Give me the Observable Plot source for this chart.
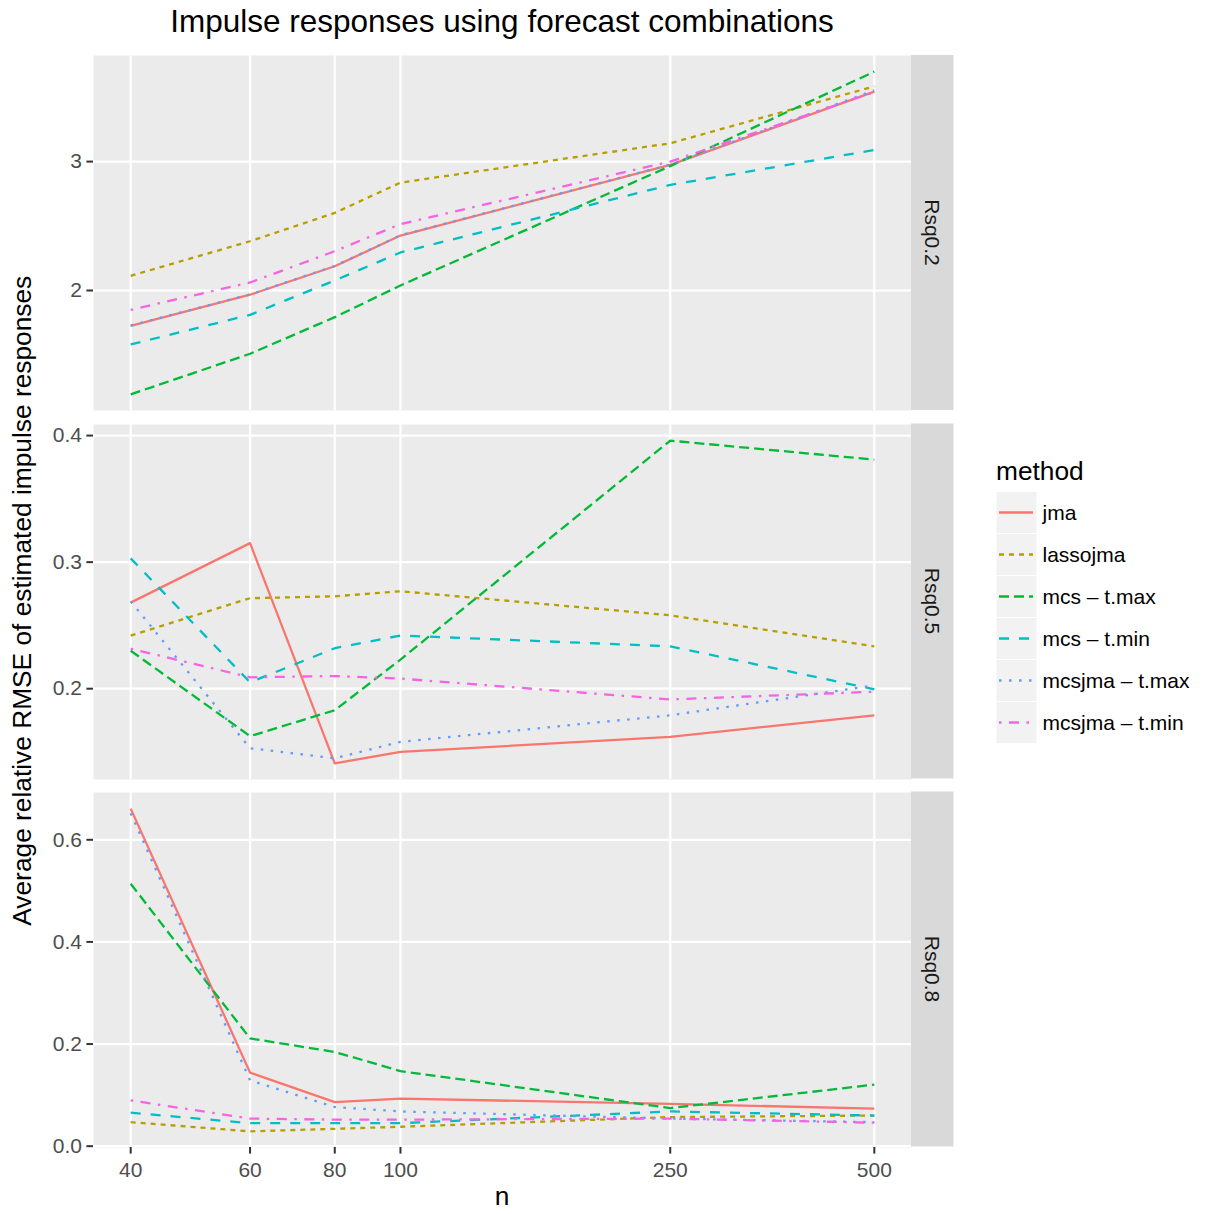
<!DOCTYPE html>
<html><head><meta charset="utf-8">
<script src="https://cdn.jsdelivr.net/npm/d3@7"></script>
<script src="https://cdn.jsdelivr.net/npm/@observablehq/plot@0.6"></script>
<style>
body{margin:0;background:#fff;}
#chart{position:relative;width:1216px;height:1214px;font-family:"Liberation Sans",Arial,sans-serif;overflow:hidden;}
.panel{position:absolute;left:0;}
#overlay{position:absolute;left:0;top:0;pointer-events:none;}
</style></head><body><div id="chart"></div>
<script>
// ---- data ----
const nValues = [40, 60, 80, 100, 250, 500];
const methods = ["jma", "lassojma", "mcs \u2013 t.max", "mcs \u2013 t.min", "mcsjma \u2013 t.max", "mcsjma \u2013 t.min"];
const panelNames = ["Rsq0.2", "Rsq0.5", "Rsq0.8"];
// rows follow the order of `methods`, columns the order of `nValues`
const rsq02 = [
  [1.726, 1.967, 2.188, 2.426, 2.974, 3.543],
  [2.114, 2.382, 2.602, 2.837, 3.142, 3.584],
  [1.194, 1.509, 1.793, 2.039, 2.965, 3.698],
  [1.581, 1.811, 2.078, 2.295, 2.819, 3.090],
  [1.728, 1.969, 2.190, 2.428, 2.976, 3.552],
  [1.850, 2.062, 2.305, 2.515, 3.000, 3.540]
];
const rsq05 = [
  [0.268, 0.315, 0.141, 0.150, 0.162, 0.179],
  [0.242, 0.2715, 0.273, 0.277, 0.258, 0.2335],
  [0.230, 0.1625, 0.183, 0.223, 0.396, 0.381],
  [0.303, 0.205, 0.232, 0.242, 0.2335, 0.1995],
  [0.269, 0.153, 0.145, 0.158, 0.179, 0.2026],
  [0.2316, 0.209, 0.210, 0.208, 0.1915, 0.1976]
];
const rsq08 = [
  [0.661, 0.144, 0.0864, 0.093, 0.083, 0.0734],
  [0.047, 0.029, 0.034, 0.038, 0.057, 0.060],
  [0.514, 0.211, 0.1845, 0.147, 0.0746, 0.1205],
  [0.0655, 0.045, 0.045, 0.045, 0.068, 0.060],
  [0.652, 0.129, 0.0766, 0.068, 0.054, 0.047],
  [0.0897, 0.054, 0.052, 0.052, 0.054, 0.046]
];
const yTickValues = [[2, 3], [0.2, 0.3, 0.4], [0.0, 0.2, 0.4, 0.6]];

// ---- styles ----
const colors = ["#F8766D", "#B79F00", "#00BA38", "#00BFC4", "#619CFF", "#F564E3"];
const dashes = [null, "5,5", "10,5", "10,10", "2.5,7.5", "2.5,7.5,10,7.5"];
const FONT = "'Liberation Sans', Arial, Helvetica, sans-serif";
const panelTops = [55, 423.5, 791.5];
const panelH = 355;
const panelLeft = 93, panelRight = 911, stripW = 42.5;
const yFormats = [d3.format("d"), d3.format(".1f"), d3.format(".1f")];

const chart = document.getElementById("chart");
const allData = [rsq02, rsq05, rsq08];

const lx0 = Math.log10(d3.min(nValues)), lx1 = Math.log10(d3.max(nValues));
const lpad = (lx1 - lx0) * 0.05;
const xDomain = [10 ** (lx0 - lpad), 10 ** (lx1 + lpad)];

allData.forEach((mat, i) => {
  const rows = [];
  mat.forEach((vals, j) => vals.forEach((v, k) => rows.push({n: nValues[k], v, method: methods[j]})));
  const [lo, hi] = d3.extent(rows, d => d.v);
  const pad = (hi - lo) * 0.05;
  const isBottom = i === allData.length - 1;
  const mb = isBottom ? 45 : 0;
  const marks = [
    Plot.frame({fill: "#EBEBEB", stroke: "none"}),
    Plot.gridX(nValues, {stroke: "#FFFFFF", strokeOpacity: 1, strokeWidth: 2.2}),
    Plot.gridY(yTickValues[i], {stroke: "#FFFFFF", strokeOpacity: 1, strokeWidth: 2.2}),
    Plot.axisY(yTickValues[i], {tickSize: 6.6, tickPadding: 5, tickFormat: yFormats[i], stroke: "#333333", strokeWidth: 2, fill: "#4D4D4D", fontSize: 21, label: null})
  ];
  if (isBottom) {
    marks.push(Plot.axisX(nValues, {tickSize: 6.6, tickPadding: 8, tickFormat: d3.format("d"), stroke: "#333333", strokeWidth: 2, fill: "#4D4D4D", fontSize: 21, label: null}));
  }
  methods.forEach((m, j) => {
    const opts = {x: "n", y: "v", stroke: colors[j], strokeWidth: 2.3, strokeLinecap: "butt", strokeLinejoin: "round"};
    if (dashes[j]) opts.strokeDasharray = dashes[j];
    marks.push(Plot.line(rows.filter(r => r.method === m), opts));
  });
  const p = Plot.plot({
    width: panelRight,
    height: panelH + mb,
    marginLeft: panelLeft, marginRight: 0, marginTop: 0, marginBottom: mb,
    style: {fontFamily: FONT, fontSize: "21px", background: "transparent", overflow: "visible", maxWidth: "none"},
    x: {type: "log", domain: xDomain, label: null, axis: isBottom ? undefined : null},
    y: {domain: [lo - pad, hi + pad], label: null},
    marks
  });
  const wrap = document.createElement("div");
  wrap.className = "panel";
  wrap.style.top = panelTops[i] + "px";
  wrap.appendChild(p);
  chart.appendChild(wrap);
});

// ---- overlay: titles, strips, legend ----
const svg = d3.select(chart).append("svg").attr("id", "overlay")
  .attr("width", 1216).attr("height", 1214).style("font-family", FONT);

svg.append("text").attr("x", (panelLeft + panelRight) / 2).attr("y", 32)
  .attr("text-anchor", "middle").attr("font-size", 31.5).attr("fill", "#000")
  .text("Impulse responses using forecast combinations");

svg.append("text").attr("transform", `translate(31,${(panelTops[0] + panelTops[2] + panelH) / 2}) rotate(-90)`)
  .attr("text-anchor", "middle").attr("font-size", 26.3).attr("fill", "#000")
  .text("Average relative RMSE of estimated impulse responses");

svg.append("text").attr("x", (panelLeft + panelRight) / 2).attr("y", 1205)
  .attr("text-anchor", "middle").attr("font-size", 26.3).attr("fill", "#000").text("n");

panelNames.forEach((name, i) => {
  svg.append("rect").attr("x", panelRight).attr("y", panelTops[i]).attr("width", stripW).attr("height", panelH).attr("fill", "#D9D9D9");
  svg.append("text").attr("transform", `translate(${panelRight + stripW / 2},${panelTops[i] + panelH / 2}) rotate(90)`)
    .attr("text-anchor", "middle").attr("dominant-baseline", "central")
    .attr("font-size", 21).attr("fill", "#1A1A1A").text(name);
});

const lg = svg.append("g");
lg.append("text").attr("x", 996).attr("y", 480).attr("font-size", 26.3).attr("fill", "#000").text("method");
methods.forEach((m, j) => {
  const y0 = 491.5 + j * 42;
  lg.append("rect").attr("x", 996.5).attr("y", y0 + 0.5).attr("width", 40).attr("height", 41).attr("fill", "#F2F2F2");
  const ln = lg.append("line").attr("x1", 999).attr("x2", 1033).attr("y1", y0 + 21).attr("y2", y0 + 21)
    .attr("stroke", colors[j]).attr("stroke-width", 2.3).attr("stroke-linecap", "butt");
  if (dashes[j]) ln.attr("stroke-dasharray", dashes[j]);
  lg.append("text").attr("x", 1042.5).attr("y", y0 + 21).attr("dominant-baseline", "central")
    .attr("font-size", 21).attr("fill", "#000").text(m);
});
</script>
</body></html>
